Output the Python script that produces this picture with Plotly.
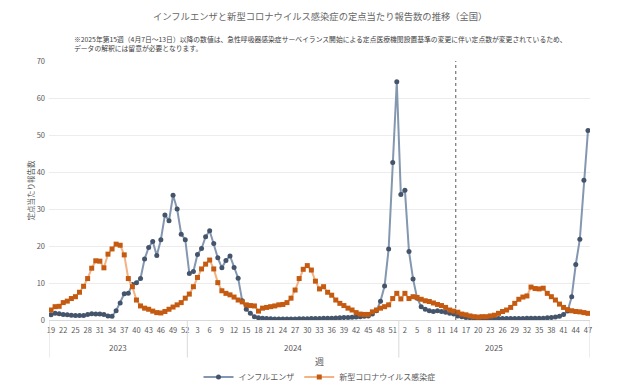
import plotly.graph_objects as go

years = ["2023"] * 34 + ["2024"] * 52 + ["2025"] * 47
weeks = list(range(19, 53)) + list(range(1, 53)) + list(range(1, 48))

flu = [
    1.4, 1.8, 1.7, 1.5, 1.4, 1.3, 1.2, 1.2, 1.2, 1.5, 1.7, 1.6, 1.6, 1.5, 1.1, 1.0,
    2.5, 4.6, 7.1, 7.2, 9.6, 10.1, 11.2, 16.5, 19.6, 21.2, 17.4, 21.7, 28.4, 26.8, 33.7, 30.0, 23.2, 21.7,
    12.6, 13.1, 17.7, 19.3, 22.5, 24.1, 20.7, 16.8, 14.1, 16.1, 17.3, 14.2, 11.3,
    5.2, 2.9, 1.8, 0.9, 0.6, 0.45,
    0.4, 0.35, 0.3, 0.3, 0.3, 0.3, 0.3, 0.3, 0.35, 0.35, 0.35, 0.4, 0.4, 0.4, 0.45, 0.5, 0.5, 0.55, 0.6, 0.65,
    0.7, 0.75, 0.8, 0.9, 1.0, 1.1,
    1.6, 2.5, 5.1, 9.2, 19.2, 42.6, 64.4, 33.9, 35.1, 18.5, 11.1, 5.9, 3.6, 2.9, 2.5, 2.3, 2.5, 2.3, 2.1, 1.8,
    1.6, 1.1, 0.9, 0.7, 0.6, 0.5,
    0.45, 0.45, 0.4, 0.4, 0.4, 0.4, 0.4, 0.4, 0.4, 0.4, 0.4, 0.4, 0.45, 0.45, 0.45, 0.5, 0.5, 0.6, 0.7, 0.8,
    1.0, 1.5, 2.4, 6.3, 15.0, 21.8, 37.8, 51.2,
]

covid = [
    2.7, 3.6, 3.7, 4.7, 5.1, 5.8, 6.3, 7.5, 9.1, 11.2, 14.0, 16.0, 15.9, 14.1, 17.8, 19.2, 20.5, 20.2, 17.6, 11.2,
    9.0, 5.4, 3.8, 3.2, 2.9, 2.4, 2.0, 1.9, 2.3, 2.9, 3.5, 4.1, 4.7, 5.9, 7.0, 9.0, 11.5, 13.8, 15.1, 16.2,
    13.8, 10.1, 7.9, 7.2, 6.8, 6.2, 5.4,
    4.9, 4.1, 3.9, 3.8, 2.4, 3.2,
    3.4, 3.6, 3.8, 4.1, 4.2, 4.7, 5.9, 8.1, 11.2, 13.7, 14.7, 13.5, 10.5, 8.4, 9.0, 7.5, 6.7, 5.4, 4.5, 3.9,
    3.2, 2.7, 2.0, 1.6, 1.5, 1.5,
    2.2, 2.7, 3.2, 3.6, 4.1, 5.8, 7.2, 5.7, 7.2, 5.8, 6.3, 6.1, 5.6, 5.2, 5.0, 4.6, 4.2, 3.9, 3.4, 2.7,
    2.4, 2.1, 1.6, 1.4, 1.1, 0.9,
    0.8, 0.9, 0.9, 1.1, 1.3, 1.8, 2.3, 2.7, 3.4, 4.5, 5.6, 6.2, 6.5, 8.9, 8.5, 8.4, 8.6, 7.2, 6.3, 5.4,
    4.3, 3.4, 2.8, 2.5, 2.3, 2.2, 2.0, 1.8,
]

series_names = ["インフルエンザ", "新型コロナウイルス感染症"]
title_text = "インフルエンザと新型コロナウイルス感染症の定点当たり報告数の推移（全国）"
note_text = ("※2025年第15週（4月7日～13日）以降の数値は、急性呼吸器感染症サーベイランス開始による定点医療機関設置基準の変更に伴い定点数が変更されているため、"
             "<br>データの解釈には留意が必要となります。")
change_point = ("2025", 15)

FONT = "Noto Sans CJK JP"
GRAY = "#595959"
PLOT_W, PLOT_H = 541, 259

idx = list(range(len(weeks)))

fig = go.Figure()
fig.add_trace(go.Scatter(
    x=idx, y=flu, name=series_names[0], mode="lines+markers",
    line=dict(color="#8497b0", width=2),
    marker=dict(symbol="circle", size=5, color="#44546a"),
))
fig.add_trace(go.Scatter(
    x=idx, y=covid, name=series_names[1], mode="lines+markers",
    line=dict(color="#f4b183", width=2),
    marker=dict(symbol="square", size=5, color="#c55a11"),
))

tickvals = idx[::3]
ticktext = [str(weeks[i]) for i in tickvals]

groups = []
for i, yv in enumerate(years):
    if not groups or groups[-1][0] != yv:
        groups.append([yv, i, i])
    else:
        groups[-1][2] = i

shapes = []
annotations = []
bounds = [g[1] - 0.5 for g in groups] + [groups[-1][2] + 0.5]
for b in bounds:
    shapes.append(dict(type="line", xref="x", yref="paper", x0=b, x1=b, y0=0, y1=-0.145,
                       line=dict(color="#d9d9d9", width=1)))
for yv, a, b in groups:
    annotations.append(dict(xref="x", yref="paper", x=(a + b) / 2, y=-27 / PLOT_H, text=yv,
                            xanchor="center", yanchor="middle",
                            showarrow=False, font=dict(family=FONT, size=8, color=GRAY)))

cp = next(i for i in idx if years[i] == change_point[0] and weeks[i] == change_point[1])
shapes.append(dict(type="line", xref="x", yref="y", x0=cp - 0.5, x1=cp - 0.5, y0=0, y1=70,
                   line=dict(color="#595959", width=1, dash="dot")))

annotations.append(dict(xref="paper", yref="paper", x=0.5, y=-41 / PLOT_H, text="週", showarrow=False,
                        xanchor="center", yanchor="middle",
                        font=dict(family=FONT, size=9, color=GRAY)))
annotations.append(dict(xref="paper", yref="paper", x=-19 / PLOT_W, y=0.5, text="定点当たり報告数",
                        xanchor="center", yanchor="middle",
                        textangle=-90, showarrow=False, font=dict(family=FONT, size=7.5, color=GRAY)))
annotations.append(dict(xref="paper", yref="paper", x=0.5, y=(259 + 45) / PLOT_H, text=title_text,
                        xanchor="center", yanchor="middle",
                        showarrow=False, font=dict(family=FONT, size=9.3, color="#666666")))
annotations.append(dict(xref="paper", yref="paper", x=23 / PLOT_W, y=(259 + 17) / PLOT_H,
                        xanchor="left", yanchor="middle", align="left", text=note_text,
                        showarrow=False, font=dict(family=FONT, size=6.8, color="#404040")))

fig.update_layout(
    width=640, height=390,
    margin=dict(l=41, r=58, t=53, b=78, autoexpand=False),
    paper_bgcolor="white", plot_bgcolor="white",
    font=dict(family=FONT, color=GRAY),
    showlegend=True,
    legend=dict(orientation="h", x=0.5, xanchor="center", y=-57 / PLOT_H, yanchor="middle",
                font=dict(family=FONT, size=8, color=GRAY),
                bgcolor="rgba(0,0,0,0)"),
    xaxis=dict(range=[-0.5, len(idx) - 0.5], tickvals=tickvals, ticktext=ticktext,
               tickfont=dict(family=FONT, size=7.5, color=GRAY), showgrid=False,
               showline=True, linecolor="#d9d9d9", ticks="", zeroline=False, tickangle=0,
               ticklabelstandoff=3),
    yaxis=dict(range=[0, 70], dtick=10, tickfont=dict(family=FONT, size=7.5, color=GRAY),
               showgrid=True, gridcolor="#ececec", zeroline=False, showline=False, ticks="",
               ticklabelstandoff=3),
    shapes=shapes, annotations=annotations,
)

fig.write_html("out.html")
